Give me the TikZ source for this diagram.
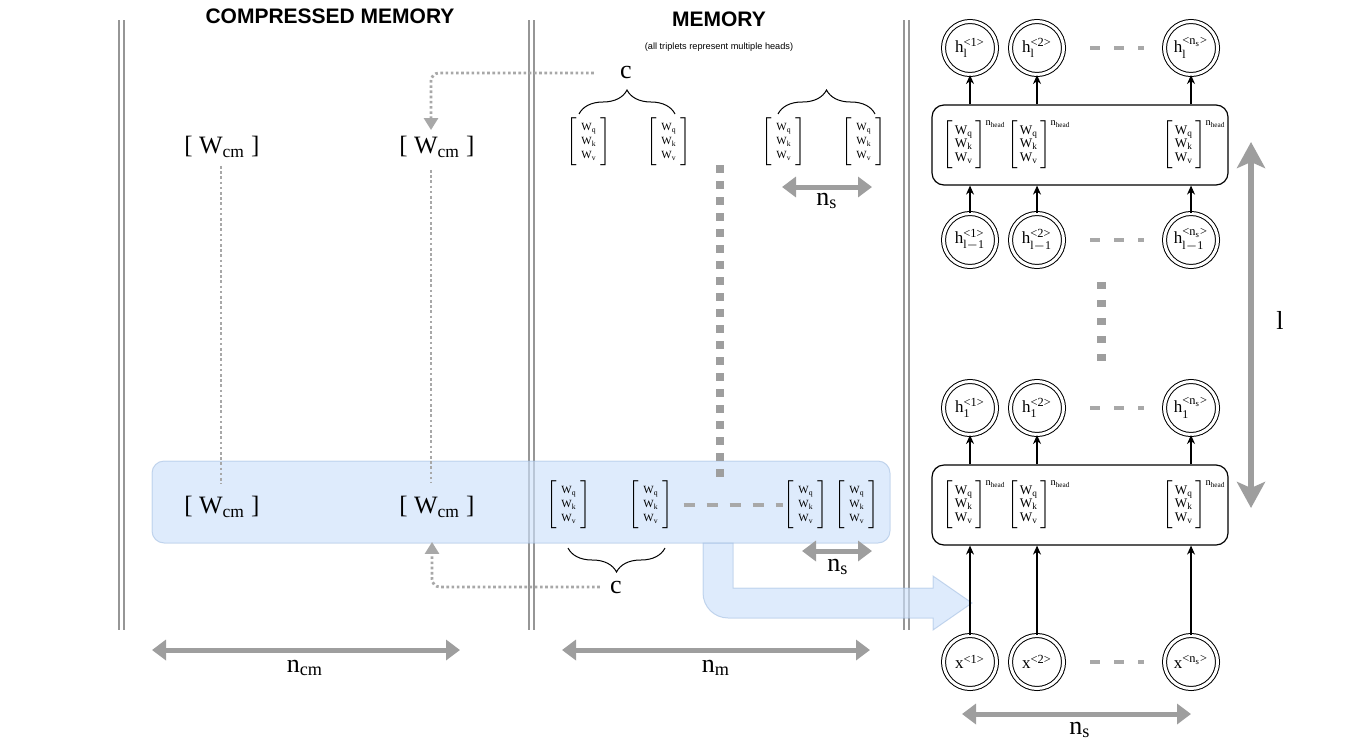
\documentclass[tikz,border=0pt]{standalone}
\usepackage{fontspec}
\setmainfont{Liberation Serif}
\setsansfont{Liberation Sans}
\usetikzlibrary{arrows.meta,decorations.pathreplacing,positioning}

\definecolor{sepgray}{RGB}{150,150,150}
\definecolor{arrgray}{RGB}{158,158,158}
\definecolor{dotgray}{RGB}{168,168,168}
\definecolor{bandfill}{RGB}{204,224,250}
\definecolor{bandline}{RGB}{150,180,220}

\newcommand{\triplet}{$\left[\begin{array}{@{\hspace{2pt}}c@{\hspace{2pt}}}\mathrm{W_q}\\\mathrm{W_k}\\\mathrm{W_v}\end{array}\right]$}
\newcommand{\headtriplet}{$\left[\begin{array}{@{\hspace{1pt}}c@{\hspace{1pt}}}\mathrm{W_q}\\\mathrm{W_k}\\\mathrm{W_v}\end{array}\right]^{\hbox{\fontsize{5.2}{6}\selectfont n\textsubscript{head}}}$}
\newcommand{\wcm}{[ W\textsubscript{cm} ]}
\newcommand{\ang}[1]{\hbox{\fontsize{6.2}{7}\selectfont <#1>}}

\tikzset{
  sepline/.style={draw=sepgray, line width=1pt},
  band/.style={fill=bandfill, fill opacity=0.65, draw=bandline, draw opacity=0.5, line width=0.5pt},
  dimarrow/.style={draw=arrgray, line width=2.5pt, {Triangle[length=7pt,width=10pt]}-{Triangle[length=7pt,width=10pt]}},
  layerarrow/.style={draw=arrgray, line width=3pt, {Stealth[length=13pt,width=14pt,inset=3pt]}-{Stealth[length=13pt,width=14pt,inset=3pt]}},
  dotline/.style={draw=dotgray, line width=1.4pt, dash pattern=on 1.3pt off 1.3pt},
  dotarrow/.style={dotline, rounded corners=4pt, -{Triangle[length=6pt,width=7pt]}},
  bigdash/.style={draw=arrgray, line width=4pt, dash pattern=on 4pt off 4pt},
  meddash/.style={draw=dotgray, line width=2pt, dash pattern=on 5.5pt off 6pt},
  gapdash/.style={draw=dotgray, line width=2pt, dash pattern=on 5pt off 7pt},
  colsdash/.style={draw=arrgray, line width=4.5pt, dash pattern=on 3.5pt off 5.5pt},
  curly/.style={draw, line width=0.5pt, decorate, decoration={brace, amplitude=12pt}},
  memtrip/.style={inner sep=0pt, font=\fontsize{5.5}{7}\selectfont},
  headtrip/.style={inner sep=0pt, anchor=west, font=\fontsize{6.6}{6.8}\selectfont},
  unit/.style={circle, draw, line width=0.5pt, double, double distance=1.5pt, minimum size=26.5pt, inner sep=0pt, font=\fontsize{8.5}{10}\selectfont},
  layerbox/.style={draw, line width=0.6pt, rounded corners=6pt, minimum width=148pt, minimum height=40pt},
  thinarrow/.style={draw, line width=0.6pt, -{Stealth[length=4.5pt,width=4pt]}},
  lblsym/.style={font=\fontsize{13}{15}\selectfont, inner sep=1pt},
  wcmnode/.style={font=\fontsize{12.5}{14}\selectfont, inner sep=0pt},
  title/.style={font=\sffamily\bfseries\fontsize{10.5}{12}\selectfont},
  note/.style={font=\sffamily\fontsize{4.6}{5.5}\selectfont}
}

\begin{document}
\begin{tikzpicture}[x=0.5pt,y=-0.5pt]
  \useasboundingbox (0,0) rectangle (1352,744);

  % column separators
  \foreach \x in {121,531,906}{
    \draw[sepline] (\x-2.5,20) -- (\x-2.5,630);
    \draw[sepline] (\x+2.5,20) -- (\x+2.5,630);
  }

  % current segment and its flow into the network
  \draw[band, rounded corners=6pt] (152,461) rectangle (890,543);
  \draw[band] (733,543) -- (733,588) -- (933,588) -- (933,576) -- (972,603) -- (933,630) -- (933,618)
    -- (728,618) arc[start angle=90,end angle=180,radius=25] -- (703,543) -- cycle;

  \node[title] (cmtitle) at (330,16) {COMPRESSED MEMORY};
  \node[title] (memtitle) at (719,19) {MEMORY};
  \node[note] (memnote) at (719,47) {(all triplets represent multiple heads)};

  % compressed memory
  \node[wcmnode] (cmA) at (222,147) {\wcm};
  \node[wcmnode] (cmB) at (437,147) {\wcm};
  \node[wcmnode] (cmC) at (222,507) {\wcm};
  \node[wcmnode] (cmD) at (437,507) {\wcm};
  \draw[dotline, shorten <=4pt, shorten >=6pt] ([xshift=-0.5pt]cmA.south) -- ([xshift=-0.5pt]cmC.north);
  \draw[dotline, shorten <=6pt, shorten >=7pt] ([xshift=-3pt]cmB.south) -- ([xshift=-3pt]cmD.north);

  % memory
  \node[lblsym] (cTop) at (626,73) {c};
  \node[lblsym] (cBot) at (616,587) {c};
  \draw[dotarrow, shorten <=12pt, shorten >=3pt] (cTop.west) -| ([xshift=-3pt]cmB.north);
  \draw[dotarrow, shorten <=4pt, shorten >=12pt] (cBot.west) -| ([xshift=-2.5pt]cmD.south);

  \foreach \n/\x in {1/589,2/669,3/784,4/864}
    \node[memtrip] (mt\n) at (\x,142) {\triplet};
  \foreach \n/\x in {1/569,2/651,3/806,4/857}
    \node[memtrip] (mb\n) at (\x,505) {\triplet};

  \draw[curly] (579,114) -- (675,114);
  \draw[curly] (778,114) -- (875,114);
  \draw[curly] (665,548) -- (568,548);

  \draw[bigdash] (720,165) -- (720,478);
  \draw[meddash, shorten <=5pt] (mb2.east) -- (mb3.west);

  \draw[dimarrow] (782,187) -- (872,187);
  \node[lblsym] (nsTop) at (827,201) {$\mathrm{n_s}$};
  \draw[dimarrow] (802,551) -- (872,551);
  \node[lblsym] (nsMem) at (838,567) {$\mathrm{n_s}$};

  \draw[dimarrow] (152,650) -- (460,650);
  \node[lblsym] (ncm) at (305,668) {$\mathrm{n_{cm}}$};
  \draw[dimarrow] (562,650) -- (870,650);
  \node[lblsym] (nm) at (716,668) {$\mathrm{n_m}$};

  % transformer layers
  \node[layerbox] (blockA) at (1080,145) {};
  \node[layerbox] (blockB) at (1080,505) {};
  \foreach \y/\b in {145/A,505/B}
    \foreach \n/\x in {1/942,2/1007,3/1162}
      \node[headtrip] (w\b\n) at (\x,\y) {\headtriplet};

  \foreach \n/\x/\s in {1/970/1,2/1037/2,3/1191/{n\textsubscript{s}}}{
    \node[unit] (ht\n) at (\x,48) {$\mathrm{h}^{\ang{\s}}_{\mathrm{l}}$};
    \node[unit] (hp\n) at (\x,240) {$\mathrm{h}^{\ang{\s}}_{\mathrm{l-1}}$};
    \node[unit] (hb\n) at (\x,408) {$\mathrm{h}^{\ang{\s}}_{\mathrm{1}}$};
    \node[unit] (xi\n) at (\x,662) {$\mathrm{x}^{\ang{\s}}$};
    \draw[thinarrow] (ht\n |- blockA.north) -- (ht\n.south);
    \draw[thinarrow] (hp\n.north) -- (hp\n |- blockA.south);
    \draw[thinarrow] (hb\n |- blockB.north) -- (hb\n.south);
    \draw[thinarrow] (xi\n.north) -- (xi\n |- blockB.south);
  }
  \foreach \r in {ht,hp,hb,xi}
    \draw[gapdash, shorten <=13pt, shorten >=10pt] (\r2) -- (\r3);

  \draw[colsdash] (1101,282) -- (1101,361);

  \draw[layerarrow] (1251,142) -- (1251,508);
  \node[lblsym] (lcount) at (1280,320) {l};

  \draw[dimarrow] (962,714) -- (1191,714);
  \node[lblsym] (nsNet) at (1080,730) {$\mathrm{n_s}$};
\end{tikzpicture}
\end{document}
